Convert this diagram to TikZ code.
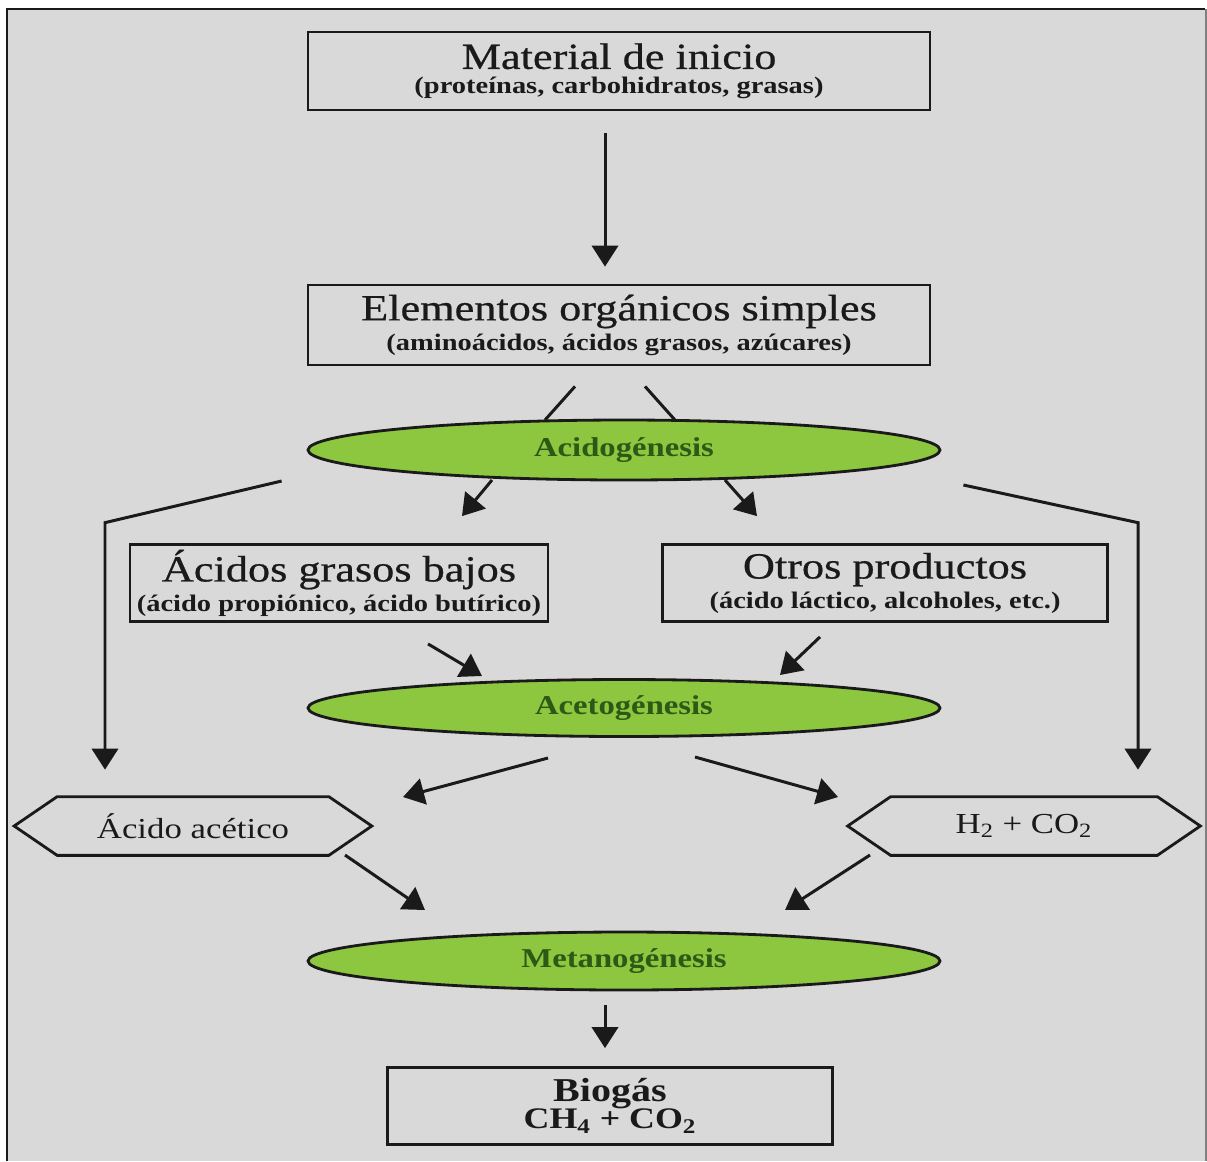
\documentclass[tikz,border=0pt]{standalone}
\usepackage{fontspec}
\setmainfont[FakeStretch=1.2]{Liberation Serif}
\newfontfamily\titlefont[FakeStretch=1.2,FakeBold=0.6]{Liberation Serif}
\usetikzlibrary{shapes.geometric,arrows.meta,calc}
\definecolor{bg}{HTML}{D9D9D9}
\definecolor{egreen}{HTML}{8DC63F}
\definecolor{tgreen}{HTML}{2C5A16}
\definecolor{ink}{HTML}{1A1A1A}
\def\pu{0.02cm}
\tikzset{
  box/.style={draw=ink, line width=1.6pt, rectangle, align=center, inner sep=0pt, text=ink},
  phase/.style={draw=ink, line width=1.6pt, ellipse, fill=egreen, inner sep=0pt,
     text=tgreen, font=\fontsize{15.5}{18}\selectfont\bfseries},
  hexlabel/.style={inner sep=0pt, text=ink, font=\fontsize{16.5}{19}\selectfont},
  hexline/.style={draw=ink, line width=1.6pt},
  conn/.style={draw=ink, line width=1.7pt},
  arr/.style={conn, -{Triangle[length=12pt,width=15pt]}},
}
\newcommand\boxtitle[1]{{\titlefont\fontsize{21}{24}\selectfont #1}}
\newcommand\boxsub[1]{{\fontsize{13.5}{16}\selectfont\bfseries #1}}
\begin{document}
\begin{tikzpicture}[x=0.02cm, y=-0.02cm]
\useasboundingbox (0,0) rectangle (1207,1161);
\fill[white] (0,0) rectangle (1207,1161);
\fill[bg] (7,9) rectangle (1205,1161);
\draw[ink, line width=1.3pt] (7,1161) -- (7,9) -- (1205,9);
\draw[gray, line width=0.8pt] (1206,9) -- (1206,1161);

% boxes
\node[box, minimum width=622*\pu, minimum height=78*\pu] (b1) at (619,71)
  {\boxtitle{Material de inicio}\\[2pt]\boxsub{(proteínas, carbohidratos, grasas)}};
\node[box, minimum width=622*\pu, minimum height=80*\pu] (b2) at (619,325)
  {\boxtitle{Elementos orgánicos simples}\\[2pt]\boxsub{(aminoácidos, ácidos grasos, azúcares)}};
\node[box, minimum width=418*\pu, minimum height=77*\pu] (b3) at (339,583)
  {\boxtitle{Ácidos grasos bajos}\\[2pt]\boxsub{(ácido propiónico, ácido butírico)}};
\node[box, minimum width=445*\pu, minimum height=77*\pu] (b4) at (885,583)
  {\boxtitle{Otros productos}\\[2pt]\boxsub{(ácido láctico, alcoholes, etc.)}};
\node[box, minimum width=445*\pu, minimum height=77*\pu] (b5) at (610,1106)
  {{\fontsize{19}{21}\selectfont\bfseries Biogás}\\[-1pt]{\fontsize{17}{19}\selectfont\bfseries CH\textsubscript{4} + CO\textsubscript{2}}};

% phases
\node[phase, minimum width=632*\pu, minimum height=60*\pu] (e1) at (624,450) {Acidogénesis};
\node[phase, minimum width=632*\pu, minimum height=57*\pu] (e2) at (624,708) {Acetogénesis};
\node[phase, minimum width=632*\pu, minimum height=58*\pu] (e3) at (624,961) {Metanogénesis};

% hexagons
\node[hexlabel, minimum width=357*\pu, minimum height=58*\pu] (h1) at (193,826) {Ácido acético};
\node[hexlabel, minimum width=352*\pu, minimum height=58*\pu] (h2) at (1024,826) {H\textsubscript{2} + CO\textsubscript{2}};
\foreach \h in {h1,h2}{
  \draw[hexline] (\h.west) -- ($(\h.north west)+(43,0)$) -- ($(\h.north east)+(-43,0)$)
    -- (\h.east) -- ($(\h.south east)+(-43,0)$) -- ($(\h.south west)+(43,0)$) -- cycle;
}

% connectors
\draw[arr] ($(b1.south)+(-14,22)$) -- ($(b2.north)+(-14,-17)$);
\draw[conn] ($(b2.south)+(-44,20)$) -- ($(e1.center)+(-79,-30)$);
\draw[conn] ($(b2.south)+(26,20)$) -- ($(e1.center)+(51,-30)$);
\draw[arr] ($(e1.center)+(-132,30)$) -- ($(b3.north)+(123,-27)$);
\draw[arr] ($(e1.center)+(101,30)$) -- ($(b4.north)+(-128,-27)$);
\draw[arr] ($(e1.west)+(-25,31)$) -- ($(h1.north)+(-88,-274)$) -- ($(h1.north)+(-88,-27)$);
\draw[arr] ($(e1.east)+(22,35)$) -- ($(h2.north)+(114,-274)$) -- ($(h2.north)+(114,-27)$);
\draw[arr] ($(b3.south)+(89,21)$) -- ($(e2.center)+(-142,-32)$);
\draw[arr] ($(b4.south)+(-65,14)$) -- ($(e2.center)+(156,-33)$);
\draw[arr] ($(e2.center)+(-76,50)$) -- ($(h1.center)+(210,-29)$);
\draw[arr] ($(e2.center)+(71,49)$) -- ($(h2.center)+(-186,-29)$);
\draw[arr] ($(h1.center)+(152,29)$) -- ($(e3.center)+(-199,-51)$);
\draw[arr] ($(h2.center)+(-154,29)$) -- ($(e3.center)+(161,-51)$);
\draw[arr] ($(e3.center)+(-19,44)$) -- ($(b5.north)+(-5,-18)$);
\end{tikzpicture}
\end{document}
